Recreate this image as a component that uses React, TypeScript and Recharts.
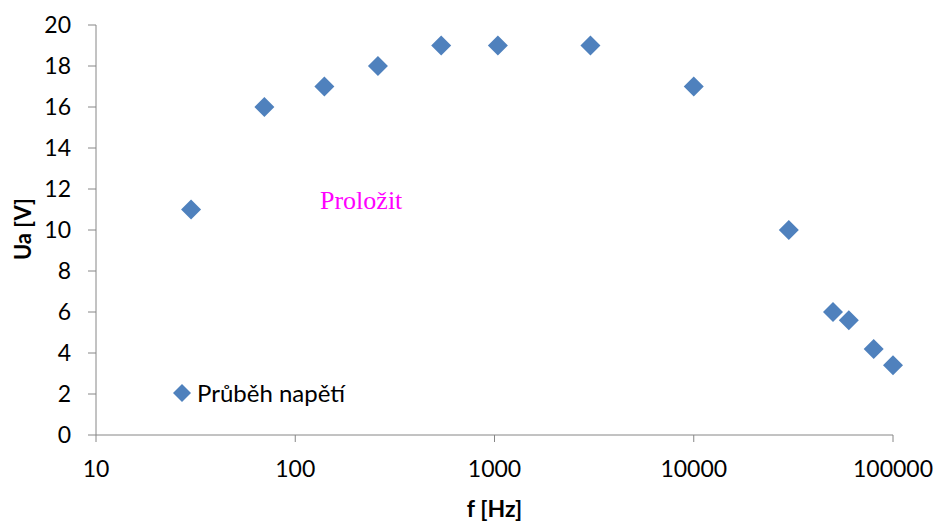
import {
  ScatterChart,
  Scatter,
  XAxis,
  YAxis,
  Legend,
} from "recharts";

// measured points: frequency (Hz) and output voltage (V)
const freqs = [30, 70, 140, 260, 540, 1040, 3030, 10000, 30000, 50000, 60000, 80000, 100000];
const voltages = [11, 16, 17, 18, 19, 19, 19, 17, 10, 6, 5.6, 4.2, 3.4];
const xTicks = [10, 100, 1000, 10000, 100000];
const yTicks = [0, 2, 4, 6, 8, 10, 12, 14, 16, 18, 20];
const seriesName = "Průběh napětí";

const data = freqs.map((f, i) => ({ f, u: voltages[i] }));

const BLUE = "#4F81BD";
const AXIS = "#868686";
const FONT = "Lato, 'Open Sans', sans-serif";

const Diamond = (props: any) => {
  const { cx, cy } = props;
  const r = 10;
  return (
    <polygon
      points={`${cx},${cy - r} ${cx + r},${cy} ${cx},${cy + r} ${cx - r},${cy}`}
      fill={BLUE}
    />
  );
};

const LegendBox = () => (
  <div style={{ display: "flex", alignItems: "center", fontFamily: FONT, fontSize: 24, color: "#000" }}>
    <svg width={18} height={18} style={{ marginRight: 6 }}>
      <polygon points="9,0 18,9 9,18 0,9" fill={BLUE} />
    </svg>
    <span>{seriesName}</span>
  </div>
);

const YTitle = () => (
  <text
    x={31}
    y={229}
    transform="rotate(-90 31 229)"
    textAnchor="middle"
    fontFamily={FONT}
    fontSize={22}
    fontWeight="bold"
    fill="#000"
  >
    Ua [V]
  </text>
);

export default function App() {
  return (
    <div style={{ position: "absolute", left: 0, top: 0, width: 937, height: 523, background: "#fff" }}>
      <ScatterChart width={937} height={523} margin={{ top: 25, right: 44, bottom: 0, left: 0 }}>
        <XAxis
          type="number"
          dataKey="f"
          scale="log"
          domain={[10, 100000]}
          ticks={xTicks}
          height={88}
          tickSize={7}
          tickMargin={19}
          stroke={AXIS}
          tick={{ fill: "#000", fontSize: 23, fontFamily: FONT }}
          label={{
            value: "f [Hz]",
            position: "insideBottom",
            offset: 6,
            fill: "#000",
            fontSize: 23,
            fontWeight: "bold",
            fontFamily: FONT,
          }}
        />
        <YAxis
          type="number"
          dataKey="u"
          domain={[0, 20]}
          ticks={yTicks}
          width={96}
          tickSize={8}
          tickMargin={17}
          stroke={AXIS}
          tick={{ fill: "#000", fontSize: 23, fontFamily: FONT }}
          label={() => <YTitle />}
        />
        <Legend
          layout="horizontal"
          verticalAlign="middle"
          align="center"
          content={() => <LegendBox />}
          wrapperStyle={{ left: 173, top: 378, width: "auto" }}
        />
        <Scatter
          name={seriesName}
          data={data}
          fill={BLUE}
          shape={Diamond}
          isAnimationActive={false}
        />
      </ScatterChart>
      <div
        style={{
          position: "absolute",
          left: 320,
          top: 188,
          fontFamily: "'Liberation Serif', serif",
          fontSize: 26,
          lineHeight: "25px",
          color: "#FF00FF",
          whiteSpace: "nowrap",
        }}
      >
        Proložit
      </div>
    </div>
  );
}
